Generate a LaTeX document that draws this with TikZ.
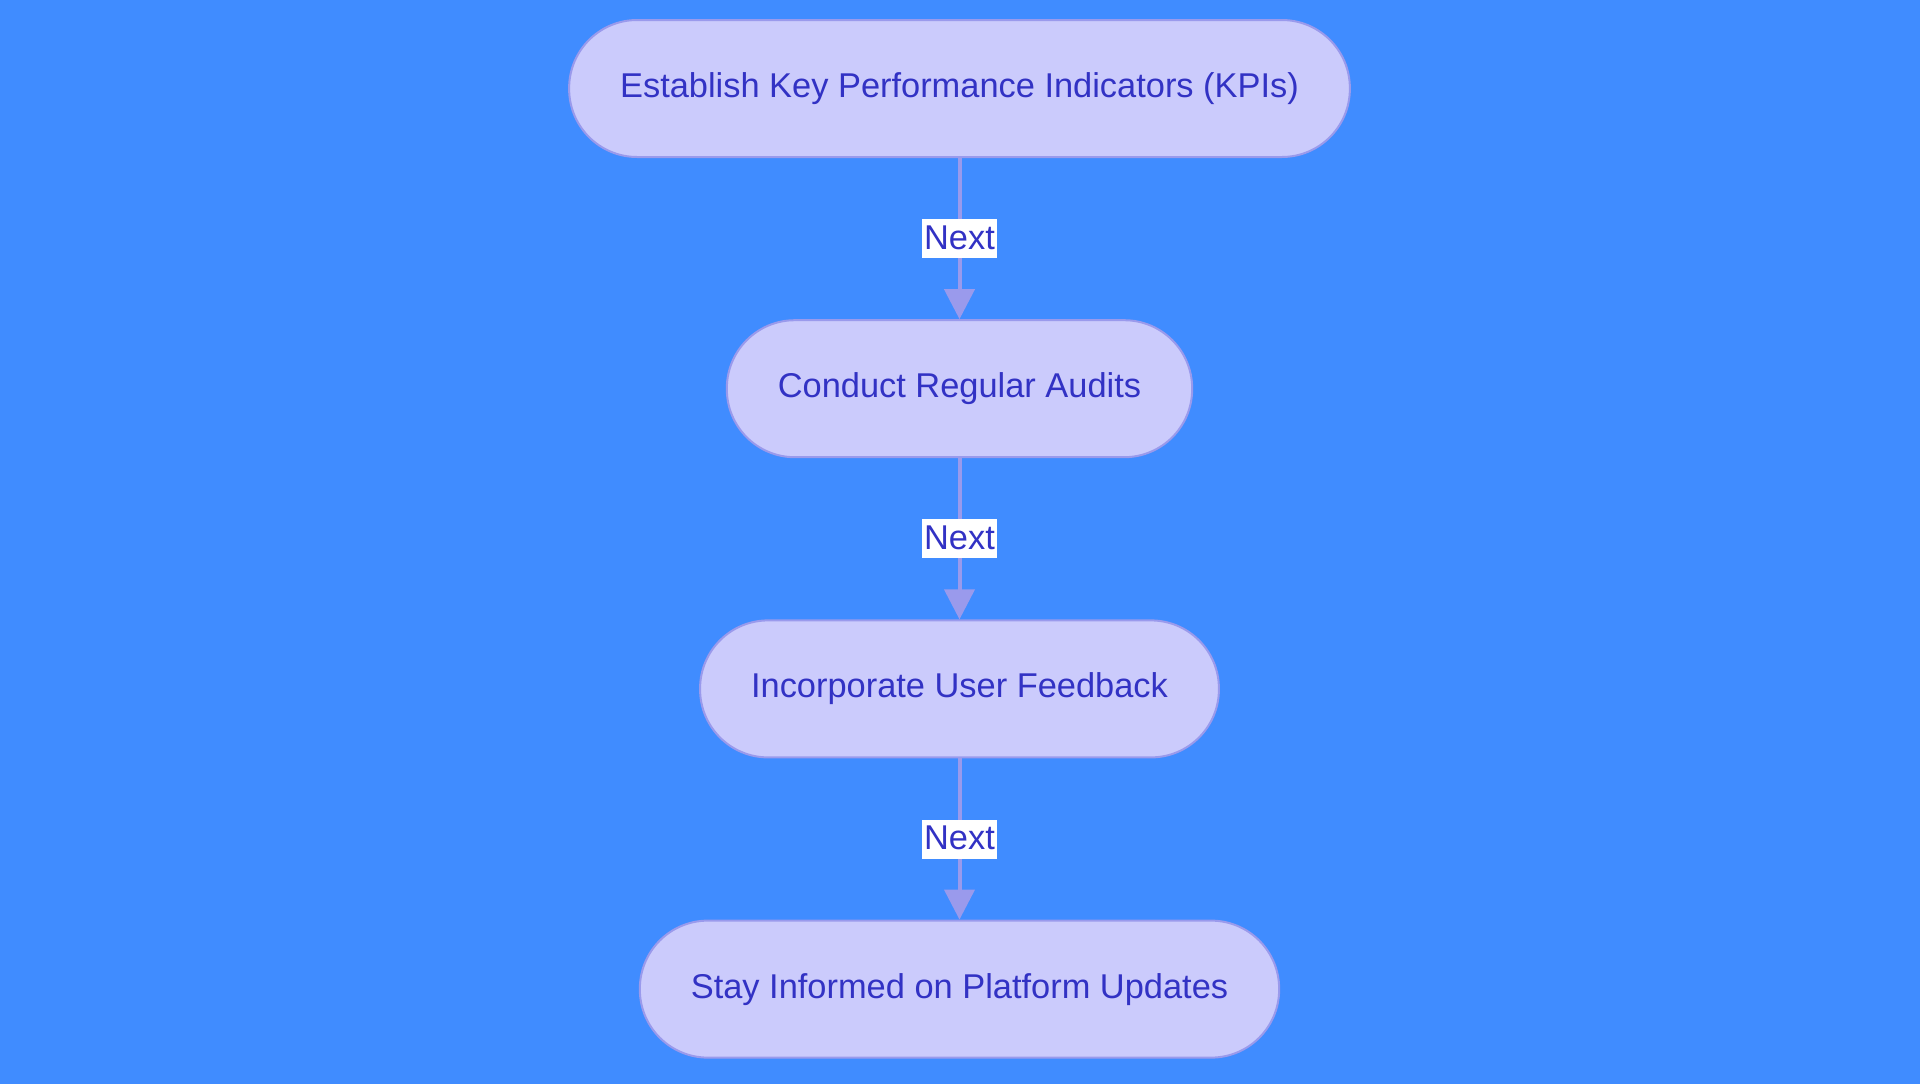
\documentclass[tikz,border=0pt]{standalone}
\usepackage{fontspec}
\setmainfont{Liberation Sans}
\usetikzlibrary{shapes,arrows.meta,chains,positioning,calc,backgrounds}
\definecolor{bgblue}{HTML}{408CFF}
\definecolor{stepfill}{HTML}{CBCBFC}
\definecolor{stepline}{HTML}{9A9AEC}
\definecolor{steptext}{HTML}{3232C4}

\begin{document}
\begin{tikzpicture}[%
    >={Triangle[width=15pt,length=15pt]}, % wide flat arrow heads
    start chain=going below,              % flow is top-to-bottom
    node distance=80.6pt                  % gap between the boxes
    ]
% -------------------------------------------------
% Box and connector styles
\tikzset{
  base/.style={draw=stepline, line width=1pt, fill=stepfill, text=steptext,
    on chain, font=\fontsize{17.2pt}{20pt}\selectfont},
  term/.style={base, rectangle, rounded corners=34pt, minimum height=68.5pt,
    inner xsep=25.5pt},
  norm/.style={->, draw=stepline, line width=2pt},
  lbl/.style={fill=white, text=steptext, inner xsep=1pt, inner ysep=1pt,
    text height=14pt, text depth=3.5pt, font=\fontsize{17.2pt}{20pt}\selectfont}
}
% -------------------------------------------------
% The steps, one below the other
\node [term] (kpi)   {Establish Key Performance Indicators (KPIs)};
\node [term] (audit) {Conduct Regular Audits};
\node [term] (feed)  {Incorporate User Feedback};
\node [term] (upd)   {Stay Informed on Platform Updates};

% -------------------------------------------------
% Straight north-south connections with their labels
\draw [norm] (kpi)   -- node [lbl] {Next} (audit);
\draw [norm] (audit) -- node [lbl] {Next} (feed);
\draw [norm] (feed)  -- node [lbl] {Next} (upd);

% -------------------------------------------------
% Background, a little oversized, then the exact page size
\begin{pgfonlayer}{background}
  \fill [bgblue] ($(kpi.center)+(-482pt,46pt)$)
    rectangle ($(kpi.center)+(482pt,-500pt)$);
\end{pgfonlayer}
\pgfresetboundingbox
\useasboundingbox ($(kpi.center)+(-479.75pt,44.25pt)$)
  rectangle ($(kpi.center)+(480.25pt,-497.25pt)$);
\end{tikzpicture}
\end{document}
